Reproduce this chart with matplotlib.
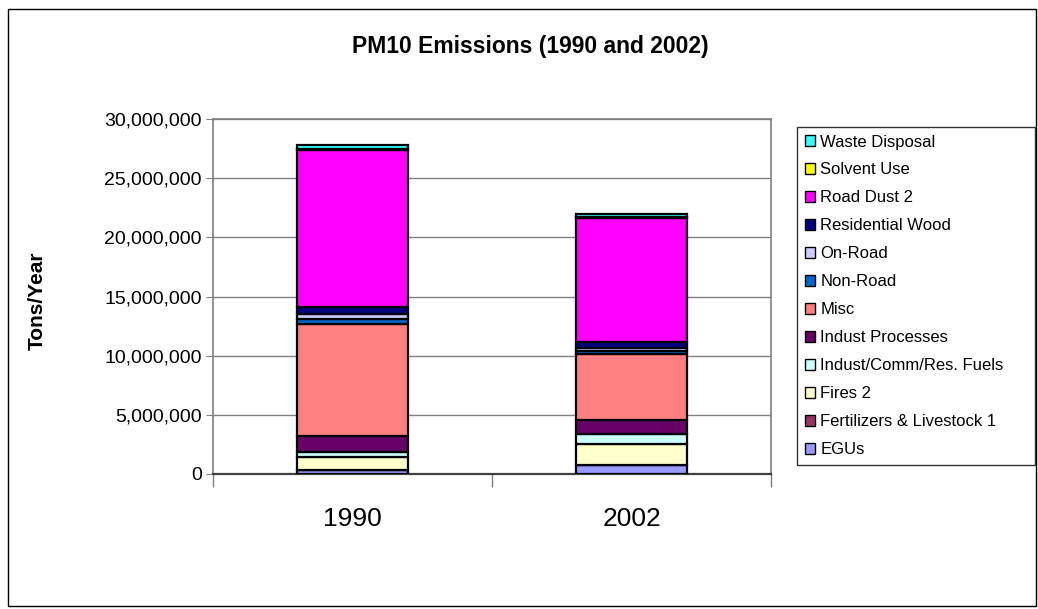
import numpy as np
import matplotlib
matplotlib.use("Agg")
import matplotlib.pyplot as plt
from matplotlib.patches import Rectangle, Patch
from matplotlib.ticker import FuncFormatter

plt.rcParams['font.family'] = ['Liberation Sans', 'DejaVu Sans']

years = ['1990', '2002']
# sources listed bottom-up in stacking order
sources = ['EGUs', 'Fertilizers & Livestock 1', 'Fires 2', 'Indust/Comm/Res. Fuels',
           'Indust Processes', 'Misc', 'Non-Road', 'On-Road', 'Residential Wood',
           'Road Dust 2', 'Solvent Use', 'Waste Disposal']
colors = ['#9999FF', '#993366', '#FFFFCC', '#CCFFFF', '#660066', '#FF8080',
          '#0066CC', '#CCCCFF', '#000080', '#FF00FF', '#FFFF00', '#33FFFF']

# tons/year, one row per source: [1990, 2002]
egus = [350000, 720000]
fert = [0, 0]
fires = [1100000, 1840000]
fuels = [400000, 820000]
ind_proc = [1350000, 1220000]
misc = [9500000, 5530000]
non_road = [400000, 300000]
on_road = [450000, 200000]
res_wood = [550000, 550000]
road_dust = [13300000, 10450000]
solvent = [50000, 100000]
waste = [350000, 250000]

data = [egus, fert, fires, fuels, ind_proc, misc, non_road, on_road,
        res_wood, road_dust, solvent, waste]

fig = plt.figure(figsize=(10.38, 6.09), dpi=100)
fig.patches.append(Rectangle((8 / 1038, 3 / 609), 1028 / 1038, 597 / 609,
                             transform=fig.transFigure, fill=False,
                             edgecolor='black', linewidth=1))
ax = fig.add_axes([213 / 1038, 1 - 474 / 609, 558 / 1038, 355 / 609])

x = np.arange(len(years))
bottom = np.zeros(len(years))
for name, vals, c in zip(sources, data, colors):
    ax.bar(x, vals, width=0.4, bottom=bottom, color=c, edgecolor='black',
           linewidth=1.6, label=name, zorder=3)
    bottom += np.array(vals)

ax.set_xlim(-0.5, 1.5)
ax.set_ylim(0, 30000000)
ax.set_yticks(np.arange(0, 30000001, 5000000))
ax.yaxis.set_major_formatter(FuncFormatter(lambda v, p: f'{int(v):,}'))
ax.grid(axis='y', color='#808080', linewidth=1, zorder=0)
ax.set_xticks(x)
ax.set_xticklabels(years, fontsize=19)
ax.set_xticks([-0.5, 0.5, 1.5], minor=True)
ax.tick_params(axis='x', which='major', length=0, pad=24)
ax.tick_params(axis='x', which='minor', length=9, color='#808080', width=1)
ax.tick_params(axis='y', labelsize=14, length=5, color='#808080', pad=3)
for s in ax.spines.values():
    s.set_color('#808080')
    s.set_linewidth(1.2)
ax.spines['bottom'].set_color('#404040')
ax.spines['bottom'].set_linewidth(1.6)

fig.text(37 / 1038, 1 - 301 / 609, 'Tons/Year', rotation=90, ha='center',
         va='center', fontsize=15, fontweight='bold')
fig.text(530 / 1038, 1 - 46 / 609, 'PM10 Emissions (1990 and 2002)',
         ha='center', va='center', fontsize=16.5, fontweight='bold')

handles = [Patch(facecolor=c, edgecolor='black', linewidth=1) for c in colors]
leg = fig.legend(handles[::-1], sources[::-1], loc='upper left',
                 bbox_to_anchor=(797 / 1038, 1 - 127 / 609, 238 / 1038, 0),
                 mode='expand', frameon=True,
                 fancybox=False, edgecolor='black', fontsize=12,
                 handlelength=0.6, handleheight=0.6, handletextpad=0.35,
                 labelspacing=0.78, borderpad=0.45, borderaxespad=0)
leg.get_frame().set_linewidth(1)

fig.savefig('out.png', dpi=100)
